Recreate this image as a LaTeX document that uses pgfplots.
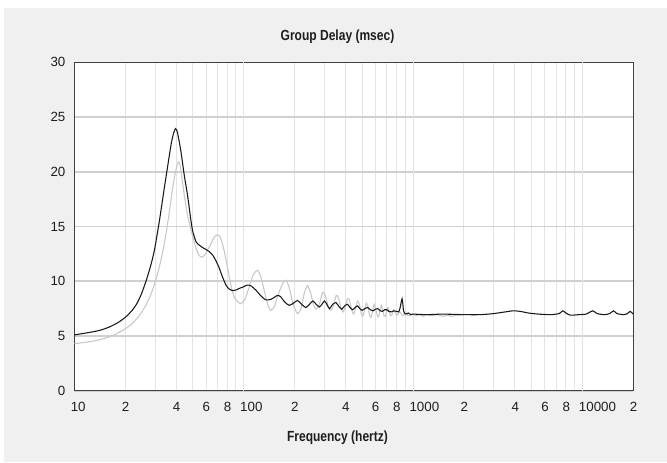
\documentclass[border=0pt]{standalone}
\usepackage{pgfplots}
\pgfplotsset{compat=1.18}
\usepackage{fontspec}
\setmainfont{Liberation Sans}
\newfontfamily\narrowfont[FakeStretch=0.82]{Liberation Sans}
\definecolor{bgc}{RGB}{240,240,240}
\definecolor{mingrid}{RGB}{228,228,228}
\definecolor{decgrid}{RGB}{205,205,205}
\definecolor{hgrid}{RGB}{208,208,208}
\definecolor{framec}{RGB}{64,64,64}
\definecolor{lightc}{RGB}{200,200,200}
\definecolor{darkc}{RGB}{25,25,25}
\definecolor{txt}{RGB}{30,30,30}
\begin{document}
\begin{tikzpicture}[x=1pt,y=1pt]
\fill[white] (-55.7,-53.5) rectangle (444.5,293);
\fill[bgc] (-52.7,-53.5) rectangle (444.5,287);
\fill[white] (0,0) rectangle (419.25,246.2);
\begin{axis}[
  at={(0,0)}, anchor=south west,
  scale only axis, width=419.25pt, height=246.2pt,
  xmode=log, xmin=10, xmax=20000, ymin=0, ymax=30,
  axis line style={draw=framec, line width=0.75pt},
  tick style={draw=none},
  major tick length=0pt, minor tick length=0pt,
  xtick={10,20,40,60,80,100,200,400,600,800,1000,2000,4000,6000,8000,10000,20000},
  xticklabels={10,2,4,6,8,100,2,4,6,8,1000,2,4,6,8,10000,2},
  minor xtick={30,50,70,90,300,500,700,900,3000,5000,7000,9000},
  extra x ticks={100,1000,10000},
  extra x tick labels={},
  extra x tick style={grid=major, major grid style={color=decgrid, line width=1.3pt}},
  xmajorgrids, xminorgrids, ymajorgrids,
  major x grid style={color=mingrid, line width=0.75pt},
  minor x grid style={color=mingrid, line width=0.75pt},
  major y grid style={color=hgrid, line width=1.2pt},
  ytick={0,5,10,15,20,25,30},
  /pgf/number format/assume math mode=true,
  xticklabel style={anchor=north west, inner sep=0pt, xshift=-2.78pt, yshift=-8.5pt, font=\fontsize{10}{12}\selectfont, text=txt},
  yticklabel style={anchor=east, inner sep=0pt, xshift=-6.5pt, font=\fontsize{10}{12}\selectfont, text=txt},
]
\addplot[color=lightc, line width=0.8pt, smooth, tension=0.4] coordinates {
(10,4.3) (12,4.45) (14,4.65) (16,4.9) (18,5.25) (20,5.65) (22,6.15) (24,6.8) (26,7.6) (28,8.6)
(30,9.9) (32,11.5) (34,13.4) (36,15.8) (38,18.4) (39.5,19.9) (41.1,20.9)
(42,20.7) (43.2,19.5) (44.7,17.8) (46.7,16.0) (48.9,14.7) (51,13.6) (52.4,13.0) (54.5,12.4)
(56.5,12.2) (58.5,12.35) (61,12.8) (64,13.4) (67,14.0) (70,14.25) (73,14.0) (76.5,12.9)
(80,11.4) (82.3,10.4) (86,9.0) (90,8.3) (96.5,7.95) (102,8.4) (108,9.5) (114,10.6) (121,11.0)
(127,10.3) (134,8.8) (140,7.7) (145,7.35) (152,7.7) (160,8.8) (170,9.8) (178,10.1) (186,9.4)
(196,7.9) (208,7.05) (218,7.5) (228,8.9) (238,9.6) (248,9.0) (258,7.9) (268,7.45) (280,7.9)
(293,9.0) (305,8.6) (317,7.6) (328,7.35) (340,7.8) (352,8.7) (363,8.5) (375,7.6) (386,7.2)
(398,7.6) (410,8.4) (422,8.3) (434,7.4) (446,7.0) (458,7.5) (470,8.2) (482,7.9) (494,7.1)
(506,6.8) (518,7.4) (530,8.0) (542,7.7) (554,6.9) (566,6.7) (578,7.3) (590,7.9) (602,7.5)
(614,6.9) (626,6.75) (638,7.3) (650,7.8) (662,7.4) (674,6.85) (686,6.8) (700,7.3) (712,7.6)
(725,7.2) (740,6.85) (755,7.0) (770,7.4) (785,7.2) (800,6.9) (815,7.0) (830,7.25) (850,7.05)
(870,6.85) (890,7.0) (910,7.1) (930,6.9) (960,6.85) (1000,7.0) (1050,6.85) (1100,6.95)
(1150,6.8) (1200,6.95) (1300,6.85) (1400,6.95) (1500,6.8) (1600,6.9) (1700,6.8) (1800,6.9) (2000,6.95)
};
\addplot[color=darkc, line width=0.8pt, smooth, tension=0.4] coordinates {
(10,5.1) (12,5.3) (14,5.5) (16,5.8) (18,6.2) (20,6.7) (22,7.35) (23.5,8.0) (25,8.9)
(26.5,10.0) (28,11.2) (29.7,12.8) (31.8,15.5) (34,18.5) (36,21.0) (37.5,22.7) (38.7,23.6)
(39.6,23.95) (40.5,23.7) (41.5,22.9) (42.7,21.8) (44.5,19.8) (46.7,17.8) (48.5,15.9) (50,14.6)
(52.4,13.6) (54.7,13.3) (57,13.1) (60,12.9) (62.7,12.7) (65.6,12.4) (68.5,11.9) (71.8,11.2)
(75,10.4) (78.7,9.65) (82,9.3) (86,9.15) (90,9.2) (94.4,9.35) (100,9.5) (105,9.65) (110,9.6)
(118,9.2) (126,8.7) (135,8.3) (145,8.35) (158,8.7) (165,8.6) (175,8.1) (186,7.8) (197,8.0)
(208,8.25) (220,7.9) (233,7.6) (245,7.9) (256,8.2) (268,7.9) (280,7.65) (290,7.9) (300,8.2)
(310,7.9) (321,7.5) (336,7.9) (351,8.05) (365,7.7) (380,7.45) (395,7.75) (410,7.9) (425,7.6)
(440,7.4) (455,7.6) (470,7.75) (485,7.5) (500,7.35) (520,7.5) (540,7.6) (560,7.4) (580,7.3)
(600,7.45) (620,7.5) (640,7.3) (660,7.25) (680,7.4) (700,7.4) (720,7.25) (745,7.2) (770,7.3)
(800,7.25) (823,7.2) (840,7.6) (852,8.1) (862,8.4) (870,8.0) (878,7.4) (890,7.1) (910,7.0)
(940,7.1) (970,6.95) (1000,7.0) (1200,6.95) (1500,7.0) (2000,6.95) (2500,6.95) (3000,7.05)
(3500,7.2) (3900,7.3) (4300,7.25) (4800,7.1) (5500,7.0) (6500,6.95) (7300,7.05) (7660,7.3)
(8000,7.1) (8500,6.9) (9500,6.95) (10500,7.0) (11530,7.3) (12200,7.05) (13500,6.95)
(14500,7.05) (15270,7.3) (16000,7.05) (17500,6.95) (18500,7.05) (19140,7.25) (20000,7.0)
};
\end{axis}
\node[font=\narrowfont\bfseries\fontsize{11}{13}\selectfont, text=txt] at (197.4,265.3) {Group Delay (msec)};
\node[font=\narrowfont\bfseries\fontsize{11}{13}\selectfont, text=txt] at (197.4,-35.5) {Frequency (hertz)};
\pgfresetboundingbox
\useasboundingbox (-55.7,-53.5) rectangle (444.5,293);
\end{tikzpicture}
\end{document}
